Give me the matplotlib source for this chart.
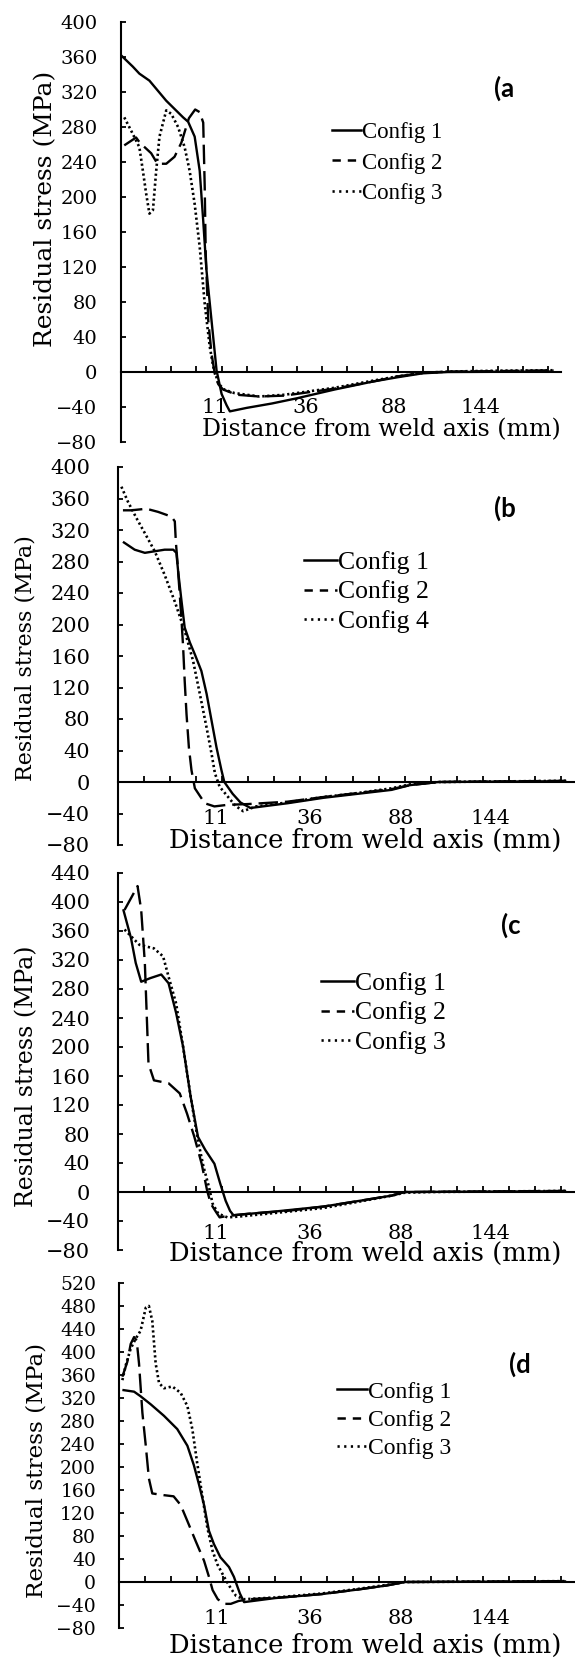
# %%
# ---------------------------------------------------------
# Residual stress vs distance from weld axis, panels (a)-(d)
# ---------------------------------------------------------
import matplotlib.pyplot as plt
from matplotlib.lines import Line2D

plt.rcParams["font.family"] = "DejaVu Serif"
plt.rcParams["lines.scale_dashes"] = False

# x is measured in category-tick units (17 ticks along the zero line)
xtick_labels = ["11", "36", "88", "144"]
xtick_label_pos = [3.75, 7.35, 10.85, 14.3]

# ---------------- panel (a) ----------------
a_names = ["Config 1", "Config 2", "Config 3"]
a_c1_x = [0.0, 0.47, 0.73, 1.13, 1.8, 2.47, 2.67, 2.93, 3.13, 3.27, 3.4, 3.6, 3.8, 4.0, 4.2,
          4.33, 5.0, 6.0, 7.0, 8.5, 10.0, 11.0, 12.0, 13.0, 17.2]
a_c1_y = [362, 349, 341, 333, 310, 291, 286, 269, 230, 173, 116, 59, 2, -25, -38,
          -45, -41, -36, -30, -20, -11, -6, -1.5, 0, 0.5]
a_c2_x = [0.13, 0.6, 0.75, 1.2, 1.45, 1.8, 2.13, 2.4, 2.7, 2.95, 3.13, 3.27, 3.33, 3.37, 3.47,
          3.6, 3.73, 3.87, 4.06, 4.6, 5.5, 6.5, 7.5, 8.5, 10.0, 11.0, 12.0, 13.0, 15.0, 17.2]
a_c2_y = [259, 268, 262, 250, 238, 238, 246, 262, 290, 300, 297, 285, 211, 135, 59,
          21, -2, -14, -20, -26, -28, -27, -23, -19, -11, -5, -1, 0.5, 1, 2]
a_c3_x = [0.13, 0.4, 0.73, 0.87, 1.0, 1.13, 1.27, 1.4, 1.53, 1.8, 2.0, 2.27, 2.53, 2.73, 2.93,
          3.13, 3.33, 3.53, 3.67, 3.87, 4.1, 4.5, 5.5, 6.5, 7.5, 8.5, 10.0, 11.0, 12.0, 13.0,
          15.0, 17.2]
a_c3_y = [291, 276, 257, 230, 204, 181, 185, 230, 269, 299, 295, 280, 257, 230, 192,
          143, 78, 29, 6, -13, -20, -24, -28, -26, -22, -18, -10, -5, -1, 0.5,
          1.5, 2]

# ---------------- panel (b) ----------------
b_names = ["Config 1", "Config 2", "Config 4"]
b_c1_x = [0.19, 0.64, 1.03, 1.41, 1.79, 2.12, 2.24, 2.31, 2.44, 2.56, 2.76, 2.95, 3.2, 3.4,
          3.59, 3.78, 3.97, 4.08, 4.4, 4.7, 5.08, 6.5, 7.9, 9.2, 10.5, 11.2, 12.3, 17.2]
b_c1_y = [305, 295, 291, 293, 295, 295, 291, 267, 229, 196, 177, 162, 141, 112,
          78, 44, 15, 0, -15, -26, -33, -27, -20, -15, -10, -4, 0, 1]
b_c2_x = [0.19, 0.51, 1.09, 1.54, 2.05, 2.18, 2.22, 2.28, 2.37, 2.44, 2.5, 2.56, 2.63, 2.72,
          2.82, 2.95, 3.33, 3.7, 4.2, 5.0, 6.5, 7.9, 9.2, 10.5, 11.2, 12.3, 17.2]
b_c2_y = [345, 345, 347, 343, 337, 331, 305, 280, 238, 204, 171, 128, 86, 44,
          15, -8, -27, -31, -29, -28, -25, -19, -14, -9, -4, 0, 1.5]
b_c4_x = [0.13, 0.38, 0.71, 1.03, 1.41, 1.79, 2.18, 2.56, 2.88, 3.14, 3.4, 3.59, 3.72, 3.9,
          4.2, 4.5, 4.8, 5.3, 6.5, 7.9, 9.2, 10.5, 11.2, 12.3, 17.2]
b_c4_y = [375, 356, 335, 316, 293, 263, 229, 192, 154, 112, 69, 36, 11, -6,
          -18, -30, -37, -31, -26, -19, -14, -8, -3, 0, 1.5]

# ---------------- panel (c) ----------------
c_names = ["Config 1", "Config 2", "Config 3"]
c_c1_x = [0.2, 0.5, 0.68, 0.89, 1.24, 1.66, 1.94, 2.23, 2.5, 2.79, 3.07, 3.35, 3.7, 3.92,
          4.13, 4.3, 4.43, 6.0, 7.9, 9.3, 10.5, 11.0, 17.2]
c_c1_y = [390, 350, 316, 290, 295, 300, 288, 247, 200, 131, 76, 58, 39, 12,
          -12, -26, -32, -27, -20, -12, -5, 0, 1]
c_c2_x = [0.25, 0.54, 0.75, 0.89, 1.03, 1.1, 1.17, 1.38, 1.94, 2.37, 2.65, 2.93, 3.21, 3.42,
          3.56, 3.77, 3.9, 4.2, 5.0, 6.5, 7.9, 9.3, 10.5, 11.0, 17.2]
c_c2_y = [389, 408, 422, 389, 316, 247, 177, 154, 150, 136, 108, 76, 39, 2,
          -16, -28, -35, -33, -30, -26, -20, -12, -5, 0, 1.5]
c_c3_x = [0.25, 0.82, 1.38, 1.73, 1.94, 2.23, 2.5, 2.79, 3.07, 3.28, 3.49, 3.63, 3.85, 4.2,
          4.6, 6.0, 7.9, 9.3, 10.5, 11.0, 12.0, 17.2]
c_c3_y = [362, 341, 336, 325, 297, 260, 200, 131, 71, 35, 7, -16, -30, -35,
          -34, -29, -22, -13, -5, -1, 0, 1.5]

# ---------------- panel (d) ----------------
d_names = ["Config 1", "Config 2", "Config 3"]
d_c1_x = [0.13, 0.58, 0.83, 1.22, 1.73, 2.24, 2.63, 2.88, 3.08, 3.27, 3.46, 3.65, 3.9, 4.23,
          4.42, 4.49, 4.65, 4.81, 6.0, 7.8, 9.2, 10.3, 11.0, 17.2]
d_c1_y = [334, 331, 323, 309, 289, 266, 237, 203, 169, 134, 89, 66, 43, 26,
          9, 0, -20, -35, -28, -21, -13, -6, 0, 1]
d_c2_x = [0.13, 0.32, 0.45, 0.58, 0.68, 0.77, 0.9, 1.03, 1.15, 1.28, 1.73, 2.1, 2.37, 2.63,
          2.95, 3.27, 3.46, 3.6, 3.8, 4.05, 4.3, 4.6, 5.0, 6.5, 7.8, 9.2, 10.3, 11.0, 17.2]
d_c2_y = [357, 383, 414, 426, 420, 380, 294, 237, 180, 154, 151, 149, 134, 106,
          71, 37, 9, -14, -30, -38, -38, -33, -30, -26, -21, -13, -6, 0, 1.5]
d_c3_x = [0.13, 0.26, 0.45, 0.64, 0.83, 1.03, 1.15, 1.28, 1.41, 1.54, 1.73, 2.05, 2.37, 2.63,
          2.82, 3.0, 3.2, 3.4, 3.6, 3.78, 4.04, 4.3, 4.5, 4.8, 6.0, 7.8, 9.2, 10.3, 11.0, 17.2]
d_c3_y = [351, 377, 406, 423, 437, 477, 480, 454, 380, 346, 337, 340, 329, 306,
          266, 209, 151, 94, 54, 31, 9, -11, -24, -30, -27, -20, -12, -5, 0, 1.5]

# %%
# ---------------------------------------------------------
# Layout (pixel boxes of the reference image)
# ---------------------------------------------------------
W, H = 575, 1659
fig = plt.figure(figsize=(W / 100, H / 100), dpi=100)


def fx(px):
    return px / W


def fy(py):
    return 1 - py / H


panels = [
    dict(tag="(a", names=a_names, series=[(a_c1_x, a_c1_y), (a_c2_x, a_c2_y), (a_c3_x, a_c3_y)],
         box=(121, 561, 22, 442), ymax=400, tick_fs=14, tick_pad=17,
         xlab_y=-41, ylabel=(46, 209, 18), xlabel=(430, 17),
         leg=(332, 163, 16.5, 0.41), tag_xy=(504, 88)),
    dict(tag="(b", names=b_names, series=[(b_c1_x, b_c1_y), (b_c2_x, b_c2_y), (b_c4_x, b_c4_y)],
         box=(118, 574, 467, 845), ymax=400, tick_fs=15, tick_pad=20,
         xlab_y=-46, ylabel=(26, 658, 16), xlabel=(840, 18.6),
         leg=(304, 592, 18.5, 0.25), tag_xy=(505, 508)),
    dict(tag="(c", names=c_names, series=[(c_c1_x, c_c1_y), (c_c2_x, c_c2_y), (c_c3_x, c_c3_y)],
         box=(118, 574, 873, 1250), ymax=440, tick_fs=15, tick_pad=20,
         xlab_y=-57, ylabel=(27, 1076, 17), xlabel=(1253, 18.6),
         leg=(321, 1013, 18.5, 0.25), tag_xy=(511, 925)),
    dict(tag="(d", names=d_names, series=[(d_c1_x, d_c1_y), (d_c2_x, d_c2_y), (d_c3_x, d_c3_y)],
         box=(119, 574, 1283, 1628), ymax=520, tick_fs=13.5, tick_pad=16.5,
         xlab_y=-64, ylabel=(37, 1470, 16.7), xlabel=(1645, 18.6),
         leg=(337, 1420, 17, 0.28), tag_xy=(520, 1364)),
]

line_styles = [
    dict(color="black", lw=1.7, linestyle="-"),
    dict(color="black", lw=1.7, linestyle=(0, (14, 5))),
    dict(color="black", lw=1.9, linestyle=(0, (1.6, 2.0))),
]
legend_styles = [
    dict(color="black", lw=1.8, linestyle="-"),
    dict(color="black", lw=1.8, linestyle=(0, (6, 5))),
    dict(color="black", lw=1.9, linestyle=(0, (1.6, 3.2))),
]

# %%
# ---------------------------------------------------------
# Draw the four panels
# ---------------------------------------------------------
for p in panels:
    left, right, top, bottom = p["box"]
    ax = fig.add_axes([fx(left), fy(bottom), (right - left) / W, (bottom - top) / H])

    for (xs, ys), st in zip(p["series"], line_styles):
        ax.plot(xs, ys, solid_capstyle="butt", **st)

    ax.set_xlim(0, 17.5)
    ax.set_ylim(-80, p["ymax"])

    # Excel-like axes: y axis on the left, category axis along zero
    ax.spines["top"].set_visible(False)
    ax.spines["right"].set_visible(False)
    ax.spines["bottom"].set_position(("data", 0))
    ax.spines["left"].set_linewidth(1.5)
    ax.spines["bottom"].set_linewidth(1.5)

    ax.set_yticks(range(-80, p["ymax"] + 1, 40))
    ax.tick_params(axis="y", direction="in", length=3.8, width=1.3,
                   pad=p["tick_pad"], labelsize=p["tick_fs"])
    ax.set_xticks(range(1, 18))
    ax.set_xticklabels([])
    ax.tick_params(axis="x", direction="in", length=4.5, width=1.3)

    for lbl, xp in zip(xtick_labels, xtick_label_pos):
        ax.text(xp, p["xlab_y"], lbl, ha="center", va="center", fontsize=15)

    # axis titles
    yx, yy, yfs = p["ylabel"]
    fig.text(fx(yx), fy(yy), "Residual stress (MPa)", rotation=90,
             ha="center", va="center", fontsize=yfs)
    xy, xfs = p["xlabel"]
    fig.text(fx(561), fy(xy), "Distance from weld axis (mm)",
             ha="right", va="center", fontsize=xfs)

    # legend
    lx, ly, lfs, lsp = p["leg"]
    handles = [Line2D([], [], **st) for st in legend_styles]
    ax.legend(handles, p["names"], loc="center left",
              bbox_to_anchor=(fx(lx), fy(ly)), bbox_transform=fig.transFigure,
              frameon=False, borderpad=0, borderaxespad=0,
              handlelength=1.27, handletextpad=0.05, labelspacing=lsp,
              prop=dict(family="Liberation Serif", size=lfs))

    # panel tag
    tx, ty = p["tag_xy"]
    fig.text(fx(tx), fy(ty), p["tag"], ha="center", va="center",
             fontsize=18.5, fontweight="bold", family="Lato")

fig.savefig("out.png", dpi=100)
